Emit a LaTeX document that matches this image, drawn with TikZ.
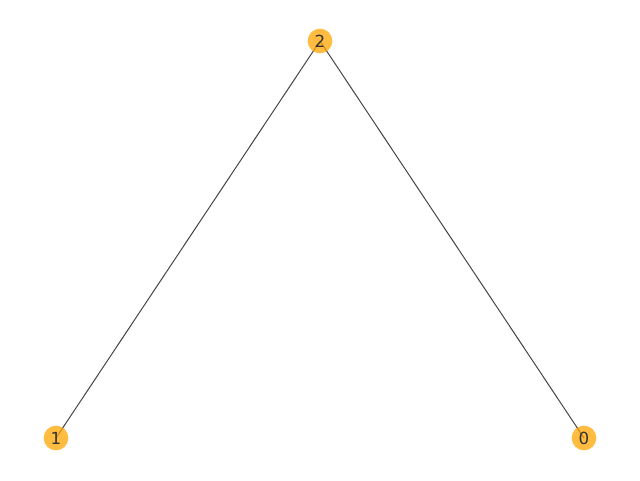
\documentclass[tikz,border=0pt]{standalone}
\usepackage{fontspec}
\setmainfont{DejaVu Sans}
\usepackage{tikz}
\usetikzlibrary{positioning}
\definecolor{nodeOrange}{RGB}{255,165,0}
\definecolor{edgeGray}{RGB}{68,68,68}
\definecolor{labelGray}{RGB}{51,51,51}
\tikzset{
    vert/.style={circle, fill=nodeOrange, fill opacity=0.75, text opacity=1, inner sep=0pt, minimum size=18.5pt, font=\fontsize{12.5}{14}\selectfont, text=labelGray},
    link/.style={draw=edgeGray, line width=0.75pt},
}
\newcommand{\drawEdge}[2]{
    \draw[link] (#1) -- (#2);
}
\begin{document}
\begin{tikzpicture}[x=0.75pt, y=-0.75pt]
        \useasboundingbox (0,0) rectangle (640,480);

        % edges first, nodes on top
        \coordinate (p2) at (320,41);
        \coordinate (p1) at (56,438);
        \coordinate (p0) at (584,438);
        \drawEdge{p2}{p1}
        \drawEdge{p2}{p0}

        \node[vert] (n2) at (p2) {2};
        \node[vert] (n1) at (p1) {1};
        \node[vert] (n0) at (p0) {0};

    \end{tikzpicture}
\end{document}
